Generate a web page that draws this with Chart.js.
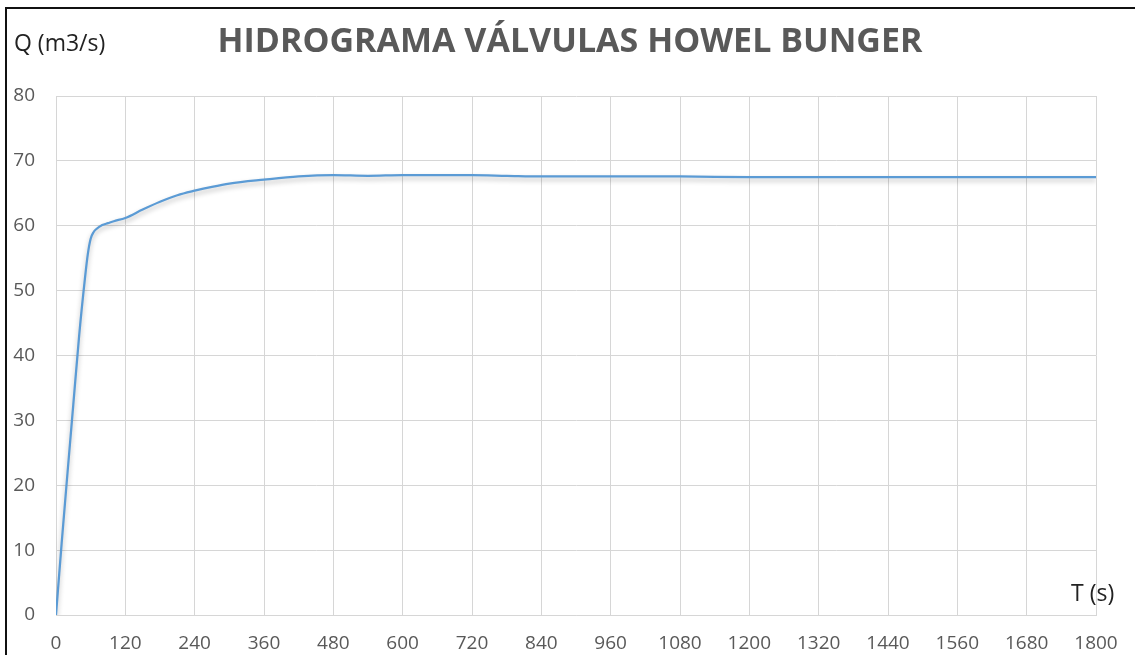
<!DOCTYPE html>
<html>
<head>
<meta charset="utf-8">
<script src="https://cdn.jsdelivr.net/npm/chart.js@4"></script>
<style>
  html, body { margin: 0; padding: 0; background: #fff; }
  #wrap { position: relative; width: 1135px; height: 655px; overflow: hidden; }
  #frame { position: absolute; left: 5px; top: 7px; width: 1200px; height: 700px;
           border-left: 2px solid #111; border-top: 2px solid #111; pointer-events: none; }
</style>
</head>
<body>
<div id="wrap">
  <canvas id="hidrograma" width="1135" height="655"></canvas>
  <div id="frame"></div>
</div>
<script>
// tiempo (s) y caudal (m3/s)
const tiempos = [0, 10, 20, 30, 40, 50, 55, 60, 65, 70, 80, 90, 100, 120, 150, 180, 210, 240, 270, 300,
                 360, 420, 480, 540, 600, 660, 720, 780, 840, 960, 1080, 1200, 1320, 1440, 1560, 1680, 1800];
const caudales = [0, 11.3, 22, 32.5, 43, 51.8, 55.6, 58, 59, 59.5, 60.1, 60.4, 60.7, 61.2, 62.5, 63.7, 64.7, 65.4, 66.0, 66.5,
                  67.1, 67.6, 67.8, 67.7, 67.8, 67.8, 67.8, 67.7, 67.6, 67.6, 67.6, 67.5, 67.5, 67.5, 67.5, 67.5, 67.5];

const titulo = 'HIDROGRAMA VÁLVULAS HOWEL BUNGER';
const ejeY = 'Q (m3/s)';
const ejeX = 'T (s)';

const gris = '#595959';
const rejilla = '#d6d6d6';

// sombra bajo la curva, como en Excel
const sombra = {
  id: 'sombra',
  beforeDatasetDraw(chart) {
    const ctx = chart.ctx;
    ctx.save();
    ctx.shadowColor = 'rgba(0,0,0,0.28)';
    ctx.shadowBlur = 5;
    ctx.shadowOffsetY = 3;
  },
  afterDatasetDraw(chart) {
    chart.ctx.restore();
  }
};

// titulo y nombres de ejes
const textos = {
  id: 'textos',
  afterDraw(chart) {
    const ctx = chart.ctx;
    ctx.save();
    ctx.fillStyle = gris;
    ctx.font = 'bold 34px "Open Sans"';
    ctx.textAlign = 'center';
    ctx.textBaseline = 'middle';
    ctx.fillText(titulo, 570, 42);

    ctx.fillStyle = '#222';
    ctx.font = '23px "Open Sans"';
    ctx.textAlign = 'left';
    ctx.fillText(ejeY, 14, 44);
    ctx.fillText(ejeX, 1071, 594);
    ctx.restore();
  }
};

const fuenteTicks = { family: 'Open Sans', size: 19 };

new Chart(document.getElementById('hidrograma'), {
  type: 'line',
  data: {
    datasets: [{
      data: tiempos.map((t, i) => ({ x: t, y: caudales[i] })),
      borderColor: '#5b9bd5',
      borderWidth: 2.25,
      pointRadius: 0,
      cubicInterpolationMode: 'monotone',
      fill: false
    }]
  },
  options: {
    responsive: false,
    animation: false,
    layout: { padding: { top: 96, right: 39, bottom: 0, left: 0 } },
    plugins: { legend: { display: false }, tooltip: { enabled: false } },
    scales: {
      x: {
        type: 'linear',
        min: 0,
        max: 1800,
        afterFit: s => { s.height = 40; },
        ticks: { stepSize: 120, color: gris, font: fuenteTicks, padding: 17, maxRotation: 0,
                 callback: v => String(v) },
        grid: { color: rejilla, drawTicks: false },
        border: { color: rejilla }
      },
      y: {
        min: 0,
        max: 80,
        afterFit: s => { s.width = 56; },
        ticks: { stepSize: 10, color: gris, font: fuenteTicks, padding: 21 },
        grid: { color: rejilla, drawTicks: false },
        border: { color: rejilla }
      }
    }
  },
  plugins: [sombra, textos]
});
</script>
</body>
</html>
